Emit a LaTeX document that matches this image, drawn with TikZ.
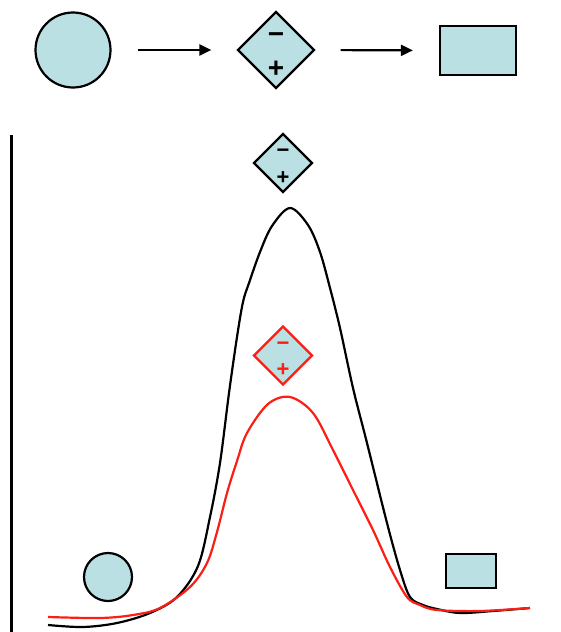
\documentclass[tikz,border=0pt]{standalone}
\usepackage{fontspec}
\setmainfont{Liberation Sans}
\usetikzlibrary{shapes.geometric,arrows.meta}
\definecolor{pale}{RGB}{187,224,227}
\definecolor{myred}{RGB}{250,30,20}
\begin{document}
\begin{tikzpicture}[x=1pt,y=-1pt,
  shp/.style={draw=black,line width=2.2pt,fill=pale,inner sep=0pt},
  dia/.style={shp,diamond,minimum width=#1,minimum height=#1},
  sign/.style={font=\bfseries\fontsize{#1}{#1}\selectfont,inner sep=0pt,anchor=base},
  arr/.style={line width=2.2pt,-{Triangle[length=12pt,width=11pt]}},
  curve/.style={line width=2.2pt,line join=round}]
\useasboundingbox (0,0) rectangle (560,632);
% top row
\node[shp,circle,minimum size=75pt] (c1) at (73,50) {};
\node[dia=77pt] (d1) at (276,50) {};
\node[sign=28] (m1) at (276,43.5) {−};
\node[sign=28] (p1) at (276,77.5) {+};
\node[shp,minimum width=76pt,minimum height=49pt] (r1) at (478,50.5) {};
\draw[arr,shorten <=26pt,shorten >=25pt] (c1.east) -- (d1.west);
\draw[arr,shorten <=25pt,shorten >=26pt] (d1.east) -- (r1.west);
% axis
\coordinate (ax1) at (11,135);
\coordinate (ax2) at (11,632);
\draw[line width=3pt] (ax1) -- (ax2);
% curves
\draw[curve,black] plot[smooth,tension=0.55] coordinates {(48,625) (83,627) (117,623) (150,613) (177,597) (198,566) (210,517) (220,463) (229,393) (237,337) (243,302) (249,283) (260,252) (272,226) (290,208) (308,225) (320,252) (330,288) (340,328) (353,388) (367,443) (387,523) (400,570) (410,597) (423,605) (437,609) (460,613) (493,611) (530,608)};
\draw[curve,myred] plot[smooth,tension=0.55] coordinates {(48,617) (100,618) (133,615) (160,608) (190,587) (207,563) (217,532) (227,493) (237,461) (247,433) (268,404) (290,397) (313,413) (333,450) (353,490) (373,530) (390,567) (407,597) (420,605) (437,610) (480,611) (530,608)};
% transition states
\node[dia=59pt] (d2) at (283,163) {};
\node[sign=22] (m2) at (283,157.5) {−};
\node[sign=22] (p2) at (283,184) {+};
\node[dia=59pt,draw=myred] (d3) at (283,355.5) {};
\node[sign=22,text=myred] (m3) at (283,350.5) {−};
\node[sign=22,text=myred] (p3) at (283,376) {+};
% small reactant/product
\node[shp,circle,minimum size=48pt] (c2) at (108,577) {};
\node[shp,minimum width=50pt,minimum height=34pt] (r2) at (471,571) {};
\end{tikzpicture}
\end{document}
